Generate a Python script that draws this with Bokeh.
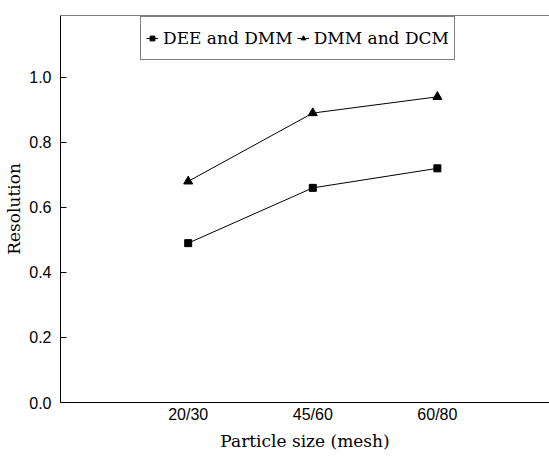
from bokeh.plotting import figure
from bokeh.models import Range1d, FixedTicker, Span, Legend, LegendItem, PrintfTickFormatter
from bokeh.embed import file_html
from bokeh.resources import INLINE

# Particle size fractions (mesh) and resolution for two solvent pairs
mesh_labels = ["20/30", "45/60", "60/80"]
mesh_pos = [1, 2, 3]
dee_dmm = [0.49, 0.66, 0.72]
dmm_dcm = [0.68, 0.89, 0.94]
y_ticks = [0.0, 0.2, 0.4, 0.6, 0.8, 1.0]

SERIF = "DejaVu Serif"
SANS = "Liberation Sans"

p = figure(width=549, height=458, output_backend="svg", toolbar_location=None,
           x_range=Range1d(-0.025, 3.9), y_range=Range1d(0, 1.19),
           min_border_left=60, min_border_right=0, min_border_top=15, min_border_bottom=56)
p.background_fill_color = "white"
p.border_fill_color = "white"
p.outline_line_color = None
p.xgrid.visible = False
p.ygrid.visible = False

l1 = p.line(mesh_pos, dee_dmm, line_color="black", line_width=1)
s1 = p.scatter(mesh_pos, dee_dmm, marker="square", size=7, color="black")
l2 = p.line(mesh_pos, dmm_dcm, line_color="black", line_width=1)
s2 = p.scatter(mesh_pos, dmm_dcm, marker="triangle", size=9, color="black")

# x axis
xa = p.xaxis[0]
xa.ticker = FixedTicker(ticks=mesh_pos)
xa.major_label_overrides = {pos: lab for pos, lab in zip(mesh_pos, mesh_labels)}
xa.major_tick_in = 0
xa.major_tick_out = 0
xa.minor_tick_line_color = None
xa.axis_line_color = "black"
xa.major_label_text_font = SANS
xa.major_label_text_font_size = "16px"
xa.major_label_text_color = "black"
xa.major_label_standoff = 3
xa.axis_label = "Particle size (mesh)"
xa.axis_label_text_font = SERIF
xa.axis_label_text_font_style = "normal"
xa.axis_label_text_font_size = "17px"
xa.axis_label_text_color = "black"
xa.axis_label_standoff = 5

# y axis
ya = p.yaxis[0]
ya.ticker = FixedTicker(ticks=y_ticks)
ya.formatter = PrintfTickFormatter(format="%.1f")
ya.major_tick_in = 6
ya.major_tick_out = 0
ya.minor_tick_line_color = None
ya.axis_line_color = "black"
ya.major_label_text_font = SANS
ya.major_label_text_font_size = "16px"
ya.major_label_text_color = "black"
ya.major_label_standoff = 9
ya.axis_label = "Resolution"
ya.axis_label_text_font = SERIF
ya.axis_label_text_font_style = "normal"
ya.axis_label_text_font_size = "17px"
ya.axis_label_text_color = "black"
ya.axis_label_standoff = 2

legend = Legend(items=[
    LegendItem(label="DEE and DMM", renderers=[l1, s1]),
    LegendItem(label="DMM and DCM", renderers=[l2, s2]),
], orientation="horizontal", location=(80, 342))
legend.label_text_font = SERIF
legend.label_text_font_size = "17px"
legend.label_text_color = "black"
legend.glyph_width = 12
legend.glyph_height = 12
legend.label_standoff = 5
legend.padding = 5
legend.spacing = 4
legend.margin = 0
legend.border_line_color = "black"
legend.border_line_width = 1
legend.background_fill_alpha = 1
legend.label_height = 32
p.add_layout(legend, "center")

# top rule of the frame
top_rule = Span(location=1.19, dimension="width", line_color="black", line_width=1,
                level="overlay")
p.add_layout(top_rule)

open("out.html", "w").write(file_html(p, INLINE))
